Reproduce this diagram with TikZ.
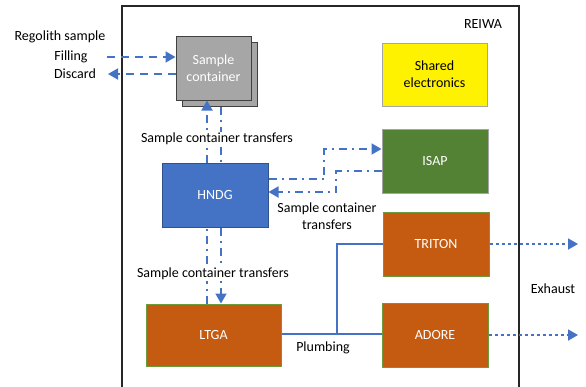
\documentclass[tikz,border=0pt]{standalone}
\usepackage{fontspec}
\setmainfont{Carlito}
\usetikzlibrary{arrows.meta,calc}

\definecolor{linkblue}{HTML}{4472C4}
\definecolor{boxgray}{HTML}{A6A6A6}
\definecolor{edgegray}{HTML}{404040}
\definecolor{hndgblue}{HTML}{4472C4}
\definecolor{hndgedge}{HTML}{2F528F}
\definecolor{isapgreen}{HTML}{548235}
\definecolor{instorange}{HTML}{C55A11}
\definecolor{orangeedge}{HTML}{6E9A3C}
\definecolor{lightedge}{HTML}{A5A5A5}
\definecolor{frameedge}{HTML}{262626}

\tikzset{
  x=1pt, y=-1pt,
  every node/.style={font=\fontsize{14}{17}\selectfont, inner sep=1pt},
  unit/.style={draw, line width=1pt, text=white, align=center},
  tip/.style={-{Triangle[length=10pt,width=11pt]}},
  link/.style={draw=linkblue, line width=1.8pt},
  dashlink/.style={link, dash pattern=on 8pt off 6pt},
  transfer/.style={link, dash pattern=on 8pt off 5pt on 2pt off 5pt},
  exhaust/.style={link, dash pattern=on 3pt off 3pt},
  pipe/.style={link, line width=2pt},
  caption/.style={text=black},
  masked/.style={caption, fill=white},
}

\begin{document}
\begin{tikzpicture}
\useasboundingbox (0,0) rectangle (586,386);
\clip (0,0) rectangle (586,386);
\fill[white] (0,0) rectangle (586,386);

% REIWA enclosure
\draw[frameedge, line width=1.2pt] (122,400) -- (122,6) -- (519,6) -- (519,400);
\node[caption] (reiwa) at (483,24) {REIWA};

% units
\node[unit, fill=boxgray, draw=edgegray, minimum width=75pt, minimum height=64pt] (shadow) at (219.5,74) {};
\node[unit, fill=boxgray, draw=edgegray, minimum width=75pt, minimum height=64pt] (cont) at (213.5,68) {Sample\\container};
\node[unit, fill=hndgblue, draw=hndgedge, minimum width=106pt, minimum height=64pt] (hndg) at (215,195) {HNDG};
\node[unit, fill=instorange, draw=orangeedge, minimum width=135pt, minimum height=62pt] (ltga) at (213.5,335) {LTGA};
\node[unit, fill=yellow, draw=lightedge, text=black, minimum width=105pt, minimum height=63pt] (elec) at (434.5,74.5) {Shared\\electronics};
\node[unit, fill=isapgreen, draw=lightedge, minimum width=106pt, minimum height=64pt] (isap) at (435,161) {ISAP};
\node[unit, fill=instorange, draw=orangeedge, minimum width=106pt, minimum height=64pt] (triton) at (436,244) {TRITON};
\node[unit, fill=instorange, draw=orangeedge, minimum width=106pt, minimum height=64pt] (adore) at (435,335) {ADORE};

% regolith in / out
\coordinate (fillsrc) at (107,57);
\coordinate (discdst) at (108,74);
\draw[dashlink, tip] (fillsrc) -- (fillsrc -| cont.west);
\draw[dashlink, tip] (discdst -| cont.west) -- (discdst);
\node[caption] (regolith) at (60,37) {Regolith sample};
\node[caption] (filling) at (71,57) {Filling};
\node[caption] (discard) at (75,74) {Discard};

% container transfers along the left column
\coordinate (upx) at (207,0);
\coordinate (dnx) at (221,0);
\draw[transfer, tip] (upx |- hndg.north) -- (upx |- cont.south);
\draw[transfer] (dnx |- shadow.south) -- (dnx |- hndg.north);
\draw[transfer] (upx |- ltga.north) -- (upx |- hndg.south);
\draw[transfer, tip] (dnx |- hndg.south) -- (dnx |- ltga.north);
\node[masked] (xfer1) at (217,139) {Sample container transfers};
\node[masked] (xfer2) at (213,274) {Sample container transfers};

% transfers between HNDG and ISAP
\coordinate (outrow) at (0,179);
\coordinate (bendA) at (324,149);
\coordinate (inrow) at (0,171);
\coordinate (bendB) at (336,192);
\draw[transfer, tip] (hndg.east |- outrow) -| (bendA) -- (bendA -| isap.west);
\draw[transfer, tip] (isap.west |- inrow) -| (bendB) -- (bendB -| hndg.east);
\node[caption, align=center] (xfer3) at (327,216) {Sample container\\transfers};

% plumbing from LTGA to TRITON and ADORE
\coordinate (gasrow) at (0,334);
\coordinate (split) at (337,334);
\draw[pipe] (ltga.east |- gasrow) -- (adore.west |- gasrow);
\draw[pipe] (split) |- (triton.west);
\node[caption] (plumb) at (323,348) {Plumbing};

% exhaust
\coordinate (exA) at (578,244);
\coordinate (exB) at (578,335);
\draw[exhaust, tip] (triton.east) -- (exA);
\draw[exhaust, tip] (adore.east) -- (exB);
\node[caption] (exh) at (553,289) {Exhaust};
\end{tikzpicture}
\end{document}
